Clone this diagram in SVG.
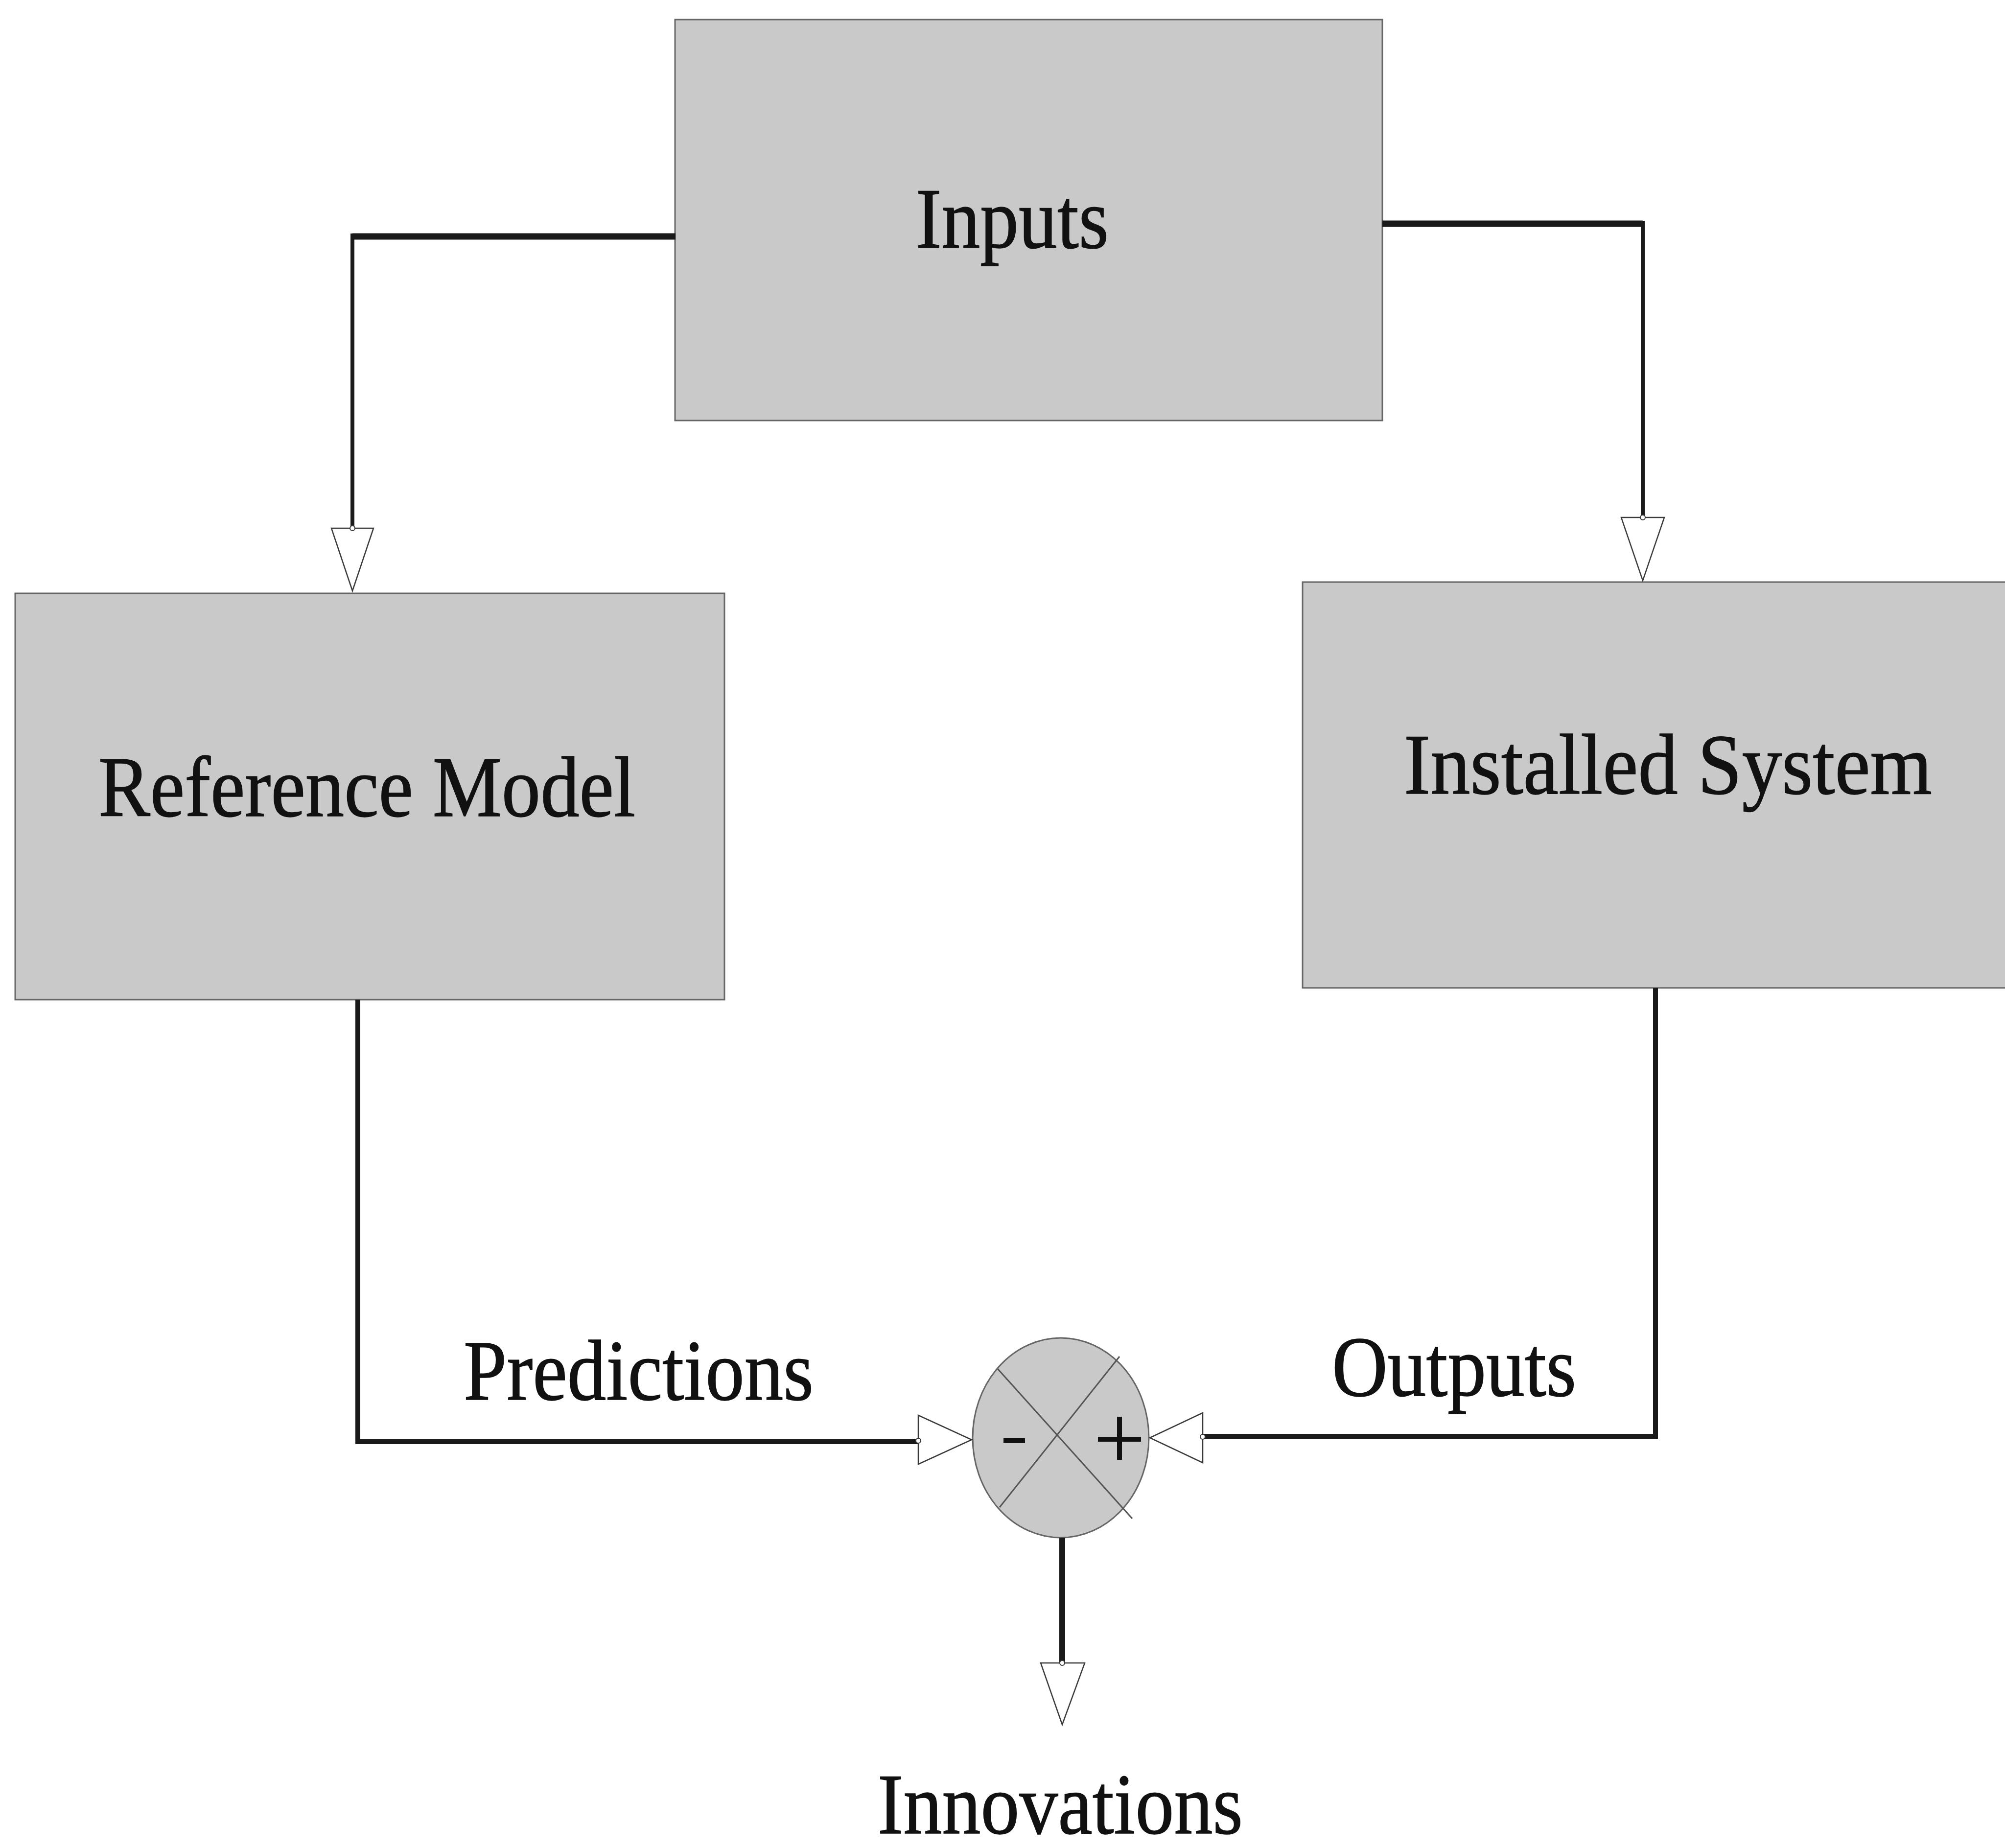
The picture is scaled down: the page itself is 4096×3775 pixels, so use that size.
<svg xmlns="http://www.w3.org/2000/svg" width="4096" height="3775" viewBox="0 0 4096 3775">
  <style>
    .box { fill: #c9c9c9; stroke: #666; stroke-width: 3; }
    .label { font-family: "Liberation Serif", "Times New Roman", serif; font-size: 175px; fill: #111; stroke: #111; stroke-width: 1.5; }
    .wire { fill: none; stroke: #1a1a1a; stroke-linejoin: miter; stroke-linecap: butt; }
    .head { fill: #ffffff; stroke: #3a3a3a; stroke-width: 2.5; stroke-linejoin: miter; }
    .dot { fill: #ffffff; stroke: #3a3a3a; stroke-width: 2; }
    .cross { stroke: #555; stroke-width: 3; fill: none; }
    .sign { stroke: #111; stroke-width: 10; fill: none; }
  </style>
  <rect width="4096" height="3775" fill="#ffffff"/>

  <!-- blocks -->
  <g id="inputs">
    <rect class="box" x="1379" y="40" width="1445" height="819"/>
    <text class="label" x="1871" y="506" textLength="394" lengthAdjust="spacingAndGlyphs">Inputs</text>
  </g>

  <g id="reference-model">
    <rect class="box" x="31" y="1212" width="1449" height="830"/>
    <text class="label" x="201" y="1667" textLength="1097" lengthAdjust="spacingAndGlyphs">Reference Model</text>
  </g>

  <g id="installed-system">
    <rect class="box" x="2661" y="1189" width="1460" height="829"/>
    <text class="label" x="2868" y="1621" textLength="1079" lengthAdjust="spacingAndGlyphs">Installed System</text>
  </g>

  <!-- summing junction -->
  <g id="junction">
    <ellipse cx="2167" cy="2937" rx="180" ry="204" fill="#c9c9c9" stroke="#666" stroke-width="3"/>
    <line class="cross" x1="2038" y1="2796" x2="2313" y2="3102"/>
    <line class="cross" x1="2287" y1="2771" x2="2042" y2="3079"/>
    <line class="sign" x1="2050" y1="2943" x2="2094" y2="2943"/>
    <line class="sign" x1="2243" y1="2940" x2="2331" y2="2940"/>
    <line class="sign" x1="2287" y1="2894" x2="2287" y2="2982"/>
  </g>

  <!-- connectors -->
  <g id="connectors">
    <!-- Inputs to Reference Model -->
    <path class="wire" d="M1380 483 H720" stroke-width="13"/>
    <path class="wire" d="M720 477 V1079" stroke-width="8"/>
    <polygon class="head" points="677,1079 763,1079 720,1207"/>
    <circle class="dot" cx="720" cy="1079" r="5"/>

    <!-- Inputs to Installed System -->
    <path class="wire" d="M2824 457 H3356" stroke-width="13"/>
    <path class="wire" d="M3356 451 V1057" stroke-width="8"/>
    <polygon class="head" points="3312,1057 3400,1057 3356,1186"/>
    <circle class="dot" cx="3356" cy="1057" r="5"/>

    <!-- Reference Model to junction -->
    <path class="wire" d="M731 2042 V2945 H1876" stroke-width="10"/>
    <polygon class="head" points="1876,2891 1876,2991 1985,2941"/>
    <circle class="dot" cx="1876" cy="2943" r="5"/>

    <!-- Installed System to junction -->
    <path class="wire" d="M3382 2018 V2934 H2457" stroke-width="10"/>
    <polygon class="head" points="2457,2886 2457,2988 2349,2937"/>
    <circle class="dot" cx="2457" cy="2935" r="5"/>

    <!-- junction output -->
    <path class="wire" d="M2170 3141 V3397" stroke-width="12"/>
    <polygon class="head" points="2126,3397 2216,3397 2170,3523"/>
    <circle class="dot" cx="2170" cy="3397" r="5"/>
  </g>

  <!-- signal labels -->
  <g id="signal-labels">
    <text class="label" x="947" y="2859" textLength="715" lengthAdjust="spacingAndGlyphs">Predictions</text>
    <text class="label" x="2721" y="2851" textLength="499" lengthAdjust="spacingAndGlyphs">Outputs</text>
    <text class="label" x="1793" y="3745" textLength="746" lengthAdjust="spacingAndGlyphs">Innovations</text>
  </g>
</svg>
